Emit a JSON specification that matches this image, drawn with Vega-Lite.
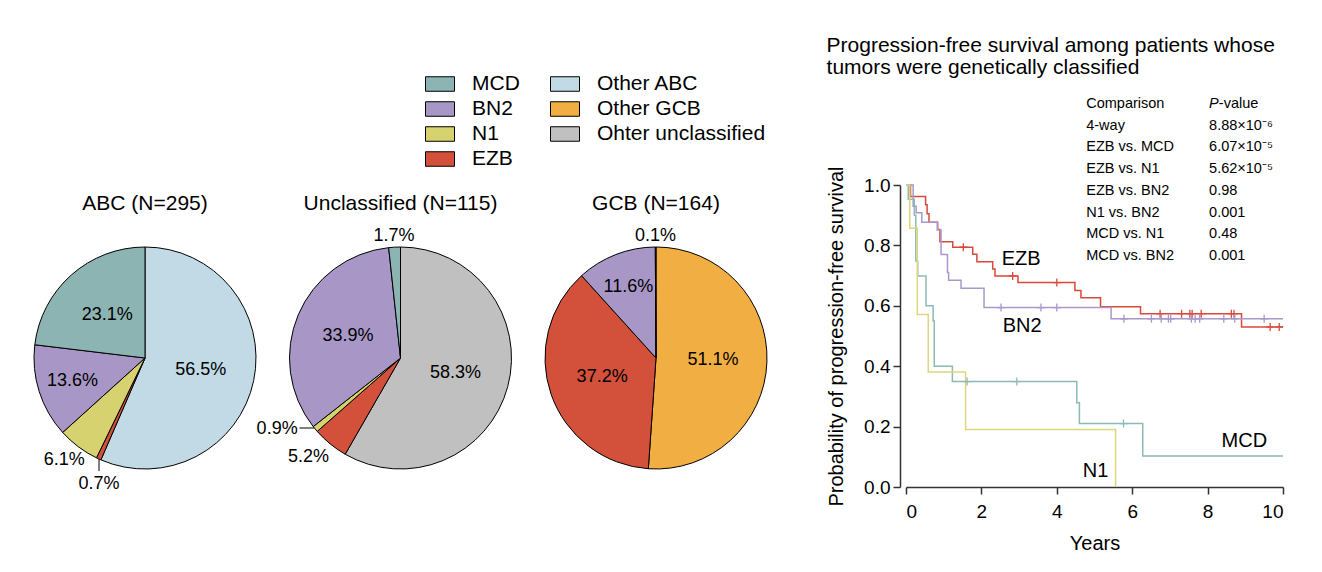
{
  "$schema": "https://vega.github.io/schema/vega-lite/v6.json",
  "padding": {"left": 32, "top": 35, "right": 5, "bottom": 5},
  "background": "white",
  "config": {
    "font": "Liberation Sans",
    "view": {"stroke": null},
    "text": {"fontSize": 18, "color": "black"},
    "axis": {"grid": false, "labelColor": "black", "titleColor": "black", "domainColor": "#333333", "tickColor": "#333333", "domainWidth": 1.5, "tickWidth": 1.5, "tickSize": 7, "labelFontSize": 19, "titleFontSize": 20, "titleFontWeight": "normal"}
  },
  "datasets": {
    "pie": [
      {"group": "ABC", "cat": "Other ABC", "pct": 56.5},
      {"group": "ABC", "cat": "EZB", "pct": 0.7},
      {"group": "ABC", "cat": "N1", "pct": 6.1},
      {"group": "ABC", "cat": "BN2", "pct": 13.6},
      {"group": "ABC", "cat": "MCD", "pct": 23.1},
      {"group": "Unclassified", "cat": "Ohter unclassified", "pct": 58.3},
      {"group": "Unclassified", "cat": "EZB", "pct": 5.2},
      {"group": "Unclassified", "cat": "N1", "pct": 0.9},
      {"group": "Unclassified", "cat": "BN2", "pct": 33.9},
      {"group": "Unclassified", "cat": "MCD", "pct": 1.7},
      {"group": "GCB", "cat": "Other GCB", "pct": 51.1},
      {"group": "GCB", "cat": "EZB", "pct": 37.2},
      {"group": "GCB", "cat": "BN2", "pct": 11.6},
      {"group": "GCB", "cat": "MCD", "pct": 0.1}
    ],
    "km": [
      {"curve": "EZB", "t": 0, "s": 1}, {"curve": "EZB", "t": 0.12, "s": 0.962}, {"curve": "EZB", "t": 0.52, "s": 0.935}, {"curve": "EZB", "t": 0.56, "s": 0.905}, {"curve": "EZB", "t": 0.61, "s": 0.877}, {"curve": "EZB", "t": 0.84, "s": 0.853}, {"curve": "EZB", "t": 0.9, "s": 0.812}, {"curve": "EZB", "t": 1.24, "s": 0.794}, {"curve": "EZB", "t": 1.77, "s": 0.771}, {"curve": "EZB", "t": 1.88, "s": 0.746}, {"curve": "EZB", "t": 2.3, "s": 0.722}, {"curve": "EZB", "t": 2.36, "s": 0.699}, {"curve": "EZB", "t": 2.97, "s": 0.677}, {"curve": "EZB", "t": 4.48, "s": 0.651}, {"curve": "EZB", "t": 4.64, "s": 0.627}, {"curve": "EZB", "t": 5.16, "s": 0.597}, {"curve": "EZB", "t": 6.22, "s": 0.574}, {"curve": "EZB", "t": 8.9, "s": 0.53}, {"curve": "EZB", "t": 10, "s": 0.53},
      {"curve": "BN2", "t": 0, "s": 1}, {"curve": "BN2", "t": 0.19, "s": 0.93}, {"curve": "BN2", "t": 0.27, "s": 0.908}, {"curve": "BN2", "t": 0.42, "s": 0.877}, {"curve": "BN2", "t": 0.83, "s": 0.851}, {"curve": "BN2", "t": 0.93, "s": 0.77}, {"curve": "BN2", "t": 1.1, "s": 0.71}, {"curve": "BN2", "t": 1.13, "s": 0.685}, {"curve": "BN2", "t": 1.46, "s": 0.658}, {"curve": "BN2", "t": 2.07, "s": 0.594}, {"curve": "BN2", "t": 5.44, "s": 0.557}, {"curve": "BN2", "t": 10, "s": 0.557},
      {"curve": "MCD", "t": 0, "s": 1}, {"curve": "MCD", "t": 0.06, "s": 0.953}, {"curve": "MCD", "t": 0.22, "s": 0.9}, {"curve": "MCD", "t": 0.26, "s": 0.748}, {"curve": "MCD", "t": 0.31, "s": 0.699}, {"curve": "MCD", "t": 0.53, "s": 0.6}, {"curve": "MCD", "t": 0.72, "s": 0.55}, {"curve": "MCD", "t": 0.75, "s": 0.4}, {"curve": "MCD", "t": 1.23, "s": 0.349}, {"curve": "MCD", "t": 4.53, "s": 0.279}, {"curve": "MCD", "t": 4.6, "s": 0.21}, {"curve": "MCD", "t": 6.28, "s": 0.103}, {"curve": "MCD", "t": 10, "s": 0.103},
      {"curve": "N1", "t": 0, "s": 1}, {"curve": "N1", "t": 0.1, "s": 0.857}, {"curve": "N1", "t": 0.3, "s": 0.571}, {"curve": "N1", "t": 0.59, "s": 0.381}, {"curve": "N1", "t": 1.58, "s": 0.19}, {"curve": "N1", "t": 5.56, "s": 0}
    ],
    "cens": [
      {"curve": "EZB", "t": 1.52, "s": 0.794}, {"curve": "EZB", "t": 2.83, "s": 0.699}, {"curve": "EZB", "t": 4.0, "s": 0.677}, {"curve": "EZB", "t": 6.74, "s": 0.574}, {"curve": "EZB", "t": 7.31, "s": 0.574}, {"curve": "EZB", "t": 7.53, "s": 0.574}, {"curve": "EZB", "t": 7.59, "s": 0.574}, {"curve": "EZB", "t": 7.83, "s": 0.574}, {"curve": "EZB", "t": 8.63, "s": 0.574}, {"curve": "EZB", "t": 8.7, "s": 0.574}, {"curve": "EZB", "t": 9.66, "s": 0.53}, {"curve": "EZB", "t": 9.9, "s": 0.53},
      {"curve": "BN2", "t": 2.52, "s": 0.594}, {"curve": "BN2", "t": 3.58, "s": 0.594}, {"curve": "BN2", "t": 4.0, "s": 0.594}, {"curve": "BN2", "t": 5.78, "s": 0.557}, {"curve": "BN2", "t": 6.51, "s": 0.557}, {"curve": "BN2", "t": 6.77, "s": 0.557}, {"curve": "BN2", "t": 6.96, "s": 0.557}, {"curve": "BN2", "t": 7.02, "s": 0.557}, {"curve": "BN2", "t": 7.57, "s": 0.557}, {"curve": "BN2", "t": 7.67, "s": 0.557}, {"curve": "BN2", "t": 7.79, "s": 0.557}, {"curve": "BN2", "t": 8.43, "s": 0.557}, {"curve": "BN2", "t": 8.72, "s": 0.557}, {"curve": "BN2", "t": 9.5, "s": 0.557},
      {"curve": "MCD", "t": 1.62, "s": 0.349}, {"curve": "MCD", "t": 2.94, "s": 0.349}, {"curve": "MCD", "t": 5.77, "s": 0.21}
    ],
    "ptab": [
      {"comp": "Comparison", "p": ""},
      {"comp": "4-way", "p": "8.88×10⁻⁶"},
      {"comp": "EZB vs. MCD", "p": "6.07×10⁻⁵"},
      {"comp": "EZB vs. N1", "p": "5.62×10⁻⁵"},
      {"comp": "EZB vs. BN2", "p": "0.98"},
      {"comp": "N1 vs. BN2", "p": "0.001"},
      {"comp": "MCD vs. N1", "p": "0.48"},
      {"comp": "MCD vs. BN2", "p": "0.001"}
    ]
  },
  "bounds": "flush",
  "spacing": 33.5,
  "resolve": {"scale": {"color": "shared"}},
  "hconcat": [
    {
      "width": 222, "height": 346,
      "title": {"text": "ABC (N=295)", "fontSize": 21, "fontWeight": "normal", "offset": -46, "baseline": "alphabetic", "anchor": "middle", "color": "black"},
      "data": {"name": "pie"},
      "transform": [
        {"filter": "datum.group == 'ABC'"},
        {"calculate": "indexof(['Other ABC','Other GCB','Ohter unclassified','EZB','N1','BN2','MCD'], datum.cat)", "as": "ord"},
        {"stack": "pct", "groupby": [], "sort": [{"field": "ord", "order": "ascending"}], "as": ["p0", "p1"]},
        {"calculate": "(datum.p0 + datum.p1) / 2", "as": "mid"},
        {"calculate": "format(datum.pct, '.1f') + '%'", "as": "lab"}
      ],
      "layer": [
        {"mark": {"type": "arc", "outerRadius": 111, "stroke": "black", "strokeWidth": 1},
         "encoding": {
           "theta": {"field": "p0", "type": "quantitative", "scale": {"domain": [0, 100]}},
           "theta2": {"field": "p1"},
           "color": {"field": "cat", "type": "nominal",
           "scale": {"domain": ["MCD", "BN2", "N1", "EZB", "Other ABC", "Other GCB", "Ohter unclassified"], "range": ["#8cb4b2", "#a897c6", "#d7d270", "#d3503a", "#c1dae5", "#f1ae43", "#c0c0c0"]},
           "legend": {"orient": "none", "legendX": 391, "legendY": -116, "columns": 2, "title": null, "symbolType": "M-1,-0.5H1V0.5H-1Z", "symbolSize": 841, "symbolStrokeColor": "black", "symbolStrokeWidth": 1, "symbolOpacity": 1, "labelFontSize": 21, "labelColor": "black", "labelOffset": 17, "labelLimit": 400, "rowPadding": -3, "columnPadding": 28, "padding": 0}}}},
        {"transform": [{"filter": "datum.pct >= 15"}],
         "mark": {"type": "text", "radius": 57},
         "encoding": {"theta": {"field": "mid", "type": "quantitative", "stack": false, "scale": {"domain": [0, 100]}}, "text": {"field": "lab"}}},
        {"transform": [{"filter": "datum.pct >= 10 && datum.pct < 15"}],
         "mark": {"type": "text", "radius": 76},
         "encoding": {"theta": {"field": "mid", "type": "quantitative", "stack": false, "scale": {"domain": [0, 100]}}, "text": {"field": "lab"}}},
        {"transform": [{"filter": "datum.cat == 'N1'"}],
         "mark": {"type": "text", "radius": 128, "dx": -4},
         "encoding": {"theta": {"field": "mid", "type": "quantitative", "stack": false, "scale": {"domain": [0, 100]}}, "text": {"field": "lab"}}},
        {"transform": [{"filter": "datum.cat == 'EZB'"}],
         "mark": {"type": "text", "radius": 128, "dx": 7.5, "dy": 10},
         "encoding": {"theta": {"field": "mid", "type": "quantitative", "stack": false, "scale": {"domain": [0, 100]}}, "text": {"field": "lab"}}},
        {"transform": [{"filter": "datum.cat == 'EZB'"}],
         "mark": {"type": "rule", "color": "black", "strokeWidth": 1},
         "encoding": {
           "x": {"datum": -46, "type": "quantitative", "scale": {"domain": [-111, 111]}, "axis": null},
           "y": {"datum": -101, "type": "quantitative", "scale": {"domain": [-173, 173]}, "axis": null},
           "y2": {"datum": -113}}}
      ]
    },
    {
      "width": 222, "height": 346,
      "title": {"text": "Unclassified (N=115)", "fontSize": 21, "fontWeight": "normal", "offset": -46, "baseline": "alphabetic", "anchor": "middle", "color": "black"},
      "data": {"name": "pie"},
      "transform": [
        {"filter": "datum.group == 'Unclassified'"},
        {"calculate": "indexof(['Other ABC','Other GCB','Ohter unclassified','EZB','N1','BN2','MCD'], datum.cat)", "as": "ord"},
        {"stack": "pct", "groupby": [], "sort": [{"field": "ord", "order": "ascending"}], "as": ["p0", "p1"]},
        {"calculate": "(datum.p0 + datum.p1) / 2", "as": "mid"},
        {"calculate": "format(datum.pct, '.1f') + '%'", "as": "lab"}
      ],
      "layer": [
        {"mark": {"type": "arc", "outerRadius": 111, "stroke": "black", "strokeWidth": 1},
         "encoding": {
           "theta": {"field": "p0", "type": "quantitative", "scale": {"domain": [0, 100]}},
           "theta2": {"field": "p1"},
           "color": {"field": "cat", "type": "nominal",
           "scale": {"domain": ["MCD", "BN2", "N1", "EZB", "Other ABC", "Other GCB", "Ohter unclassified"], "range": ["#8cb4b2", "#a897c6", "#d7d270", "#d3503a", "#c1dae5", "#f1ae43", "#c0c0c0"]},
           "legend": {"orient": "none", "legendX": 391, "legendY": -116, "columns": 2, "title": null, "symbolType": "M-1,-0.5H1V0.5H-1Z", "symbolSize": 841, "symbolStrokeColor": "black", "symbolStrokeWidth": 1, "symbolOpacity": 1, "labelFontSize": 21, "labelColor": "black", "labelOffset": 17, "labelLimit": 400, "rowPadding": -3, "columnPadding": 28, "padding": 0}}}},
        {"transform": [{"filter": "datum.pct >= 15"}],
         "mark": {"type": "text", "radius": 57},
         "encoding": {"theta": {"field": "mid", "type": "quantitative", "stack": false, "scale": {"domain": [0, 100]}}, "text": {"field": "lab"}}},
        {"transform": [{"filter": "datum.cat == 'MCD'"}],
         "mark": {"type": "text", "radius": 122},
         "encoding": {"theta": {"field": "mid", "type": "quantitative", "stack": false, "scale": {"domain": [0, 100]}}, "text": {"field": "lab"}}},
        {"transform": [{"filter": "datum.cat == 'EZB'"}],
         "mark": {"type": "text", "radius": 128, "dx": -11},
         "encoding": {"theta": {"field": "mid", "type": "quantitative", "stack": false, "scale": {"domain": [0, 100]}}, "text": {"field": "lab"}}},
        {"transform": [{"filter": "datum.cat == 'N1'"}],
         "mark": {"type": "text", "radius": 128, "dx": -25, "dy": -11},
         "encoding": {"theta": {"field": "mid", "type": "quantitative", "stack": false, "scale": {"domain": [0, 100]}}, "text": {"field": "lab"}}},
        {"transform": [{"filter": "datum.cat == 'N1'"}],
         "mark": {"type": "rule", "color": "black", "strokeWidth": 1},
         "encoding": {
           "x": {"datum": -101, "type": "quantitative", "scale": {"domain": [-111, 111]}, "axis": null},
           "x2": {"datum": -86.5},
           "y": {"datum": -70, "type": "quantitative", "scale": {"domain": [-173, 173]}, "axis": null}}}
      ]
    },
    {
      "width": 222, "height": 346,
      "title": {"text": "GCB (N=164)", "fontSize": 21, "fontWeight": "normal", "offset": -46, "baseline": "alphabetic", "anchor": "middle", "color": "black"},
      "data": {"name": "pie"},
      "transform": [
        {"filter": "datum.group == 'GCB'"},
        {"calculate": "indexof(['Other ABC','Other GCB','Ohter unclassified','EZB','N1','BN2','MCD'], datum.cat)", "as": "ord"},
        {"stack": "pct", "groupby": [], "sort": [{"field": "ord", "order": "ascending"}], "as": ["p0", "p1"]},
        {"calculate": "(datum.p0 + datum.p1) / 2", "as": "mid"},
        {"calculate": "format(datum.pct, '.1f') + '%'", "as": "lab"}
      ],
      "layer": [
        {"mark": {"type": "arc", "outerRadius": 111, "stroke": "black", "strokeWidth": 1},
         "encoding": {
           "theta": {"field": "p0", "type": "quantitative", "scale": {"domain": [0, 100]}},
           "theta2": {"field": "p1"},
           "color": {"field": "cat", "type": "nominal",
           "scale": {"domain": ["MCD", "BN2", "N1", "EZB", "Other ABC", "Other GCB", "Ohter unclassified"], "range": ["#8cb4b2", "#a897c6", "#d7d270", "#d3503a", "#c1dae5", "#f1ae43", "#c0c0c0"]},
           "legend": {"orient": "none", "legendX": 391, "legendY": -116, "columns": 2, "title": null, "symbolType": "M-1,-0.5H1V0.5H-1Z", "symbolSize": 841, "symbolStrokeColor": "black", "symbolStrokeWidth": 1, "symbolOpacity": 1, "labelFontSize": 21, "labelColor": "black", "labelOffset": 17, "labelLimit": 400, "rowPadding": -3, "columnPadding": 28, "padding": 0}}}},
        {"transform": [{"filter": "datum.pct >= 15"}],
         "mark": {"type": "text", "radius": 57},
         "encoding": {"theta": {"field": "mid", "type": "quantitative", "stack": false, "scale": {"domain": [0, 100]}}, "text": {"field": "lab"}}},
        {"transform": [{"filter": "datum.pct >= 10 && datum.pct < 15"}],
         "mark": {"type": "text", "radius": 76},
         "encoding": {"theta": {"field": "mid", "type": "quantitative", "stack": false, "scale": {"domain": [0, 100]}}, "text": {"field": "lab"}}},
        {"transform": [{"filter": "datum.cat == 'MCD'"}],
         "mark": {"type": "text", "radius": 122},
         "encoding": {"theta": {"field": "mid", "type": "quantitative", "stack": false, "scale": {"domain": [0, 100]}}, "text": {"field": "lab"}}}
      ]
    },
    {
      "width": 71.5, "height": 10,
      "data": {"values": []},
      "mark": {"type": "point", "opacity": 0}
    },
    {
      "width": 377, "height": 302,
      "title": {"text": ["Progression-free survival among patients whose", "tumors were genetically classified"], "anchor": "start", "frame": "bounds", "fontSize": 21, "fontWeight": "normal", "lineHeight": 22, "offset": 18, "color": "black"},
      "resolve": {"scale": {"y": "independent"}},
      "layer": [
        {
          "layer": [
            {"data": {"name": "km"},
             "mark": {"type": "line", "interpolate": "step-after", "strokeWidth": 1.5},
             "encoding": {
               "x": {"field": "t", "type": "quantitative", "scale": {"domain": [0, 10], "nice": false}, "axis": {"values": [0, 2, 4, 6, 8, 10], "format": "d", "title": "Years", "labelPadding": 8, "titlePadding": 12}},
               "y": {"field": "s", "type": "quantitative", "scale": {"domain": [0, 1], "nice": false}, "axis": {"values": [0, 0.2, 0.4, 0.6, 0.8, 1], "format": ".1f", "offset": 6, "title": "Probability of progression-free survival", "labelPadding": 3, "titlePadding": 17}},
               "stroke": {"field": "curve", "type": "nominal", "scale": {"domain": ["EZB", "BN2", "MCD", "N1"], "range": ["#d9493a", "#a898cc", "#8dbab6", "#dcd77a"]}, "legend": null}
             }},
            {"data": {"name": "cens"},
             "mark": {"type": "point", "shape": "M0,-1L0,1M-1,0L1,0", "size": 64, "filled": false, "strokeWidth": 1.3, "opacity": 1},
             "encoding": {
               "x": {"field": "t", "type": "quantitative"},
               "y": {"field": "s", "type": "quantitative"},
               "stroke": {"field": "curve", "type": "nominal", "legend": null}
             }},
            {"data": {"values": [{}]},
             "mark": {"type": "text", "fontSize": 20, "align": "left", "baseline": "middle", "text": "EZB"},
             "encoding": {"x": {"datum": 2.54, "type": "quantitative"}, "y": {"datum": 0.754, "type": "quantitative"}}},
            {"data": {"values": [{}]},
             "mark": {"type": "text", "fontSize": 20, "align": "left", "baseline": "middle", "text": "BN2"},
             "encoding": {"x": {"datum": 2.565, "type": "quantitative"}, "y": {"datum": 0.533, "type": "quantitative"}}},
            {"data": {"values": [{}]},
             "mark": {"type": "text", "fontSize": 20, "align": "left", "baseline": "middle", "text": "MCD"},
             "encoding": {"x": {"datum": 8.37, "type": "quantitative"}, "y": {"datum": 0.152, "type": "quantitative"}}},
            {"data": {"values": [{}]},
             "mark": {"type": "text", "fontSize": 20, "align": "left", "baseline": "middle", "text": "N1"},
             "encoding": {"x": {"datum": 4.69, "type": "quantitative"}, "y": {"datum": 0.053, "type": "quantitative"}}}
          ]
        },
        {
          "data": {"name": "ptab"},
          "encoding": {
            "y": {"field": "comp", "type": "ordinal", "sort": null, "scale": {"type": "point", "range": [-81, 71], "padding": 0}, "axis": null}
          },
          "layer": [
            {"mark": {"type": "text", "fontSize": 14.5, "align": "left", "baseline": "middle"},
             "encoding": {"x": {"datum": 4.78, "type": "quantitative"}, "text": {"field": "comp"}}},
            {"mark": {"type": "text", "fontSize": 14.5, "align": "left", "baseline": "middle"},
             "encoding": {"x": {"datum": 8.04, "type": "quantitative"}, "text": {"field": "p"}}},
            {"transform": [{"filter": "datum.comp == 'Comparison'"}],
             "mark": {"type": "text", "fontSize": 14.5, "align": "left", "baseline": "middle", "fontStyle": "italic", "text": "P"},
             "encoding": {"x": {"datum": 8.04, "type": "quantitative"}}},
            {"transform": [{"filter": "datum.comp == 'Comparison'"}],
             "mark": {"type": "text", "fontSize": 14.5, "align": "left", "baseline": "middle", "text": "-value"},
             "encoding": {"x": {"datum": 8.297, "type": "quantitative"}}}
          ]
        }
      ]
    }
  ]
}
